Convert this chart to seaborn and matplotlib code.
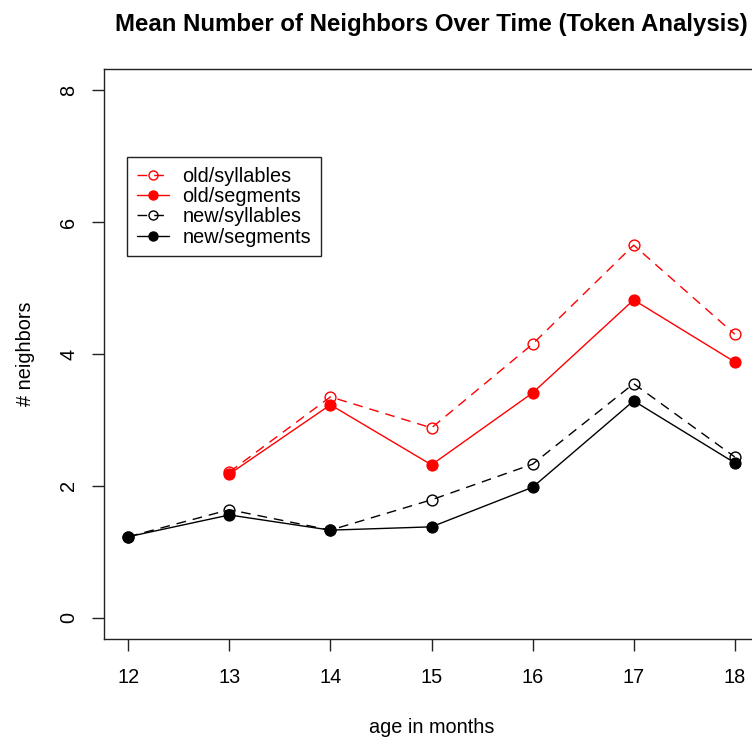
import numpy as np
import pandas as pd
import matplotlib
matplotlib.use("Agg")
import matplotlib.pyplot as plt
import seaborn as sns

# ---- data ----
months_all = [12, 13, 14, 15, 16, 17, 18]
months_old = [13, 14, 15, 16, 17, 18]
old_syllables = [2.21, 3.35, 2.88, 4.15, 5.65, 4.30]
old_segments = [2.18, 3.23, 2.32, 3.41, 4.82, 3.88]
new_syllables = [1.23, 1.64, 1.33, 1.79, 2.33, 3.55, 2.44]
new_segments = [1.23, 1.56, 1.33, 1.38, 1.98, 3.29, 2.35]
x_ticks = [12, 13, 14, 15, 16, 17, 18]
y_ticks = [0, 2, 4, 6, 8]

sns.set_theme(style="white")
plt.rcParams['font.family'] = ['Liberation Sans', 'DejaVu Sans']
plt.rcParams['text.color'] = 'black'

DPI = 100
fig = plt.figure(figsize=(7.52, 7.37), dpi=DPI)
ax = fig.add_axes([104/752, (737-639)/737, (759-104)/752, 570/737])

RED = "#ff0000"
BLK = "#000000"
lw = 1.0
ms = 7.8
dash = (7, 5)

series = [
    ("old/syllables", months_old, old_syllables, RED, True),
    ("old/segments", months_old, old_segments, RED, False),
    ("new/syllables", months_all, new_syllables, BLK, True),
    ("new/segments", months_all, new_segments, BLK, False),
]

handles = []
for name, xs, ys, col, dashed in series:
    df = pd.DataFrame({"month": xs, "value": ys})
    sns.lineplot(data=df, x="month", y="value", ax=ax, color=col, lw=lw,
                 marker="o", markersize=ms,
                 markerfacecolor=("none" if dashed else col),
                 markeredgecolor=col, markeredgewidth=1.0,
                 dashes=False, label=name, zorder=3)
    line = ax.get_lines()[-1]
    if dashed:
        line.set_dashes(dash)
    handles.append(line)

ax.set_xlim(11.76, 18.24)
ax.set_ylim(-0.32, 8.32)
ax.set_xticks(x_ticks)
ax.set_xticklabels([str(t) for t in x_ticks])
ax.set_yticks(y_ticks)
ax.set_yticklabels([str(t) for t in y_ticks], rotation=90, va="center")

for s in ax.spines.values():
    s.set_color("#222222")
    s.set_linewidth(1.0)
    s.set_visible(True)

ax.tick_params(axis="both", which="major", direction="out", length=8.6,
               width=1.0, color="#222222", labelsize=14.3, labelcolor="black",
               bottom=True, left=True)
ax.tick_params(axis="x", pad=12.5)
ax.tick_params(axis="y", pad=10)

ax.set_xlabel("age in months", fontsize=14.3, color="black")
ax.set_ylabel("# neighbors", fontsize=14.3, color="black")
ax.xaxis.set_label_coords(0.5, -(718-639)/570)
ax.yaxis.set_label_coords((25-104)/655, 0.5)
ax.xaxis.label.set_va("top")
ax.yaxis.label.set_va("center")

ax.set_title("Mean Number of Neighbors Over Time (Token Analysis)",
             fontsize=17.3, fontweight="bold", pad=27, color="black")

leg = ax.legend(handles=handles, labels=[s[0] for s in series],
                loc="upper left", bbox_to_anchor=((127-104)/655, (639-157)/570),
                borderaxespad=0, fontsize=14.3, frameon=True, fancybox=False,
                framealpha=1, edgecolor="#222222", handlelength=1.6,
                handletextpad=0.7, borderpad=0.5, labelspacing=0.06)
leg.get_frame().set_linewidth(1.0)
for t in leg.get_texts():
    t.set_color("black")
for h in leg.legend_handles:
    h.set_markersize(6.5)

ax.grid(False)
fig.savefig("out.png", dpi=DPI)
